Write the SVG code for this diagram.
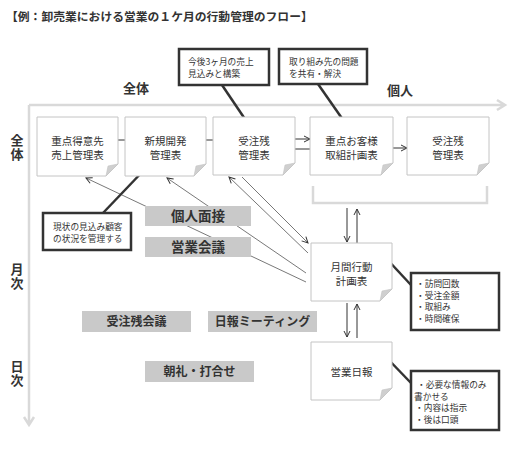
<svg xmlns="http://www.w3.org/2000/svg" width="510" height="450" viewBox="0 0 510 450">
<defs>
<style>
text{font-family:"Noto Sans CJK JP","Noto Sans",sans-serif;fill:#333}
.ttl{font-size:11.8px;font-weight:bold}
.hd{font-size:13px;font-weight:bold;text-anchor:middle}
.vt{font-size:13px;font-weight:bold;writing-mode:tb;letter-spacing:1px}
.nt{font-size:10.5px;text-anchor:middle}
.ct{font-size:8.7px}
.gt{font-weight:bold;text-anchor:middle}
.frame{stroke:#d9d9d9;stroke-width:2.5;fill:none}
.doc{fill:#fff;stroke:#c4c4c4;stroke-width:1}
.fold{fill:#cfcfcf;stroke:#c4c4c4;stroke-width:0.6}
.gbox{fill:#c9c9c9}
.cbox{fill:#fff;stroke:#333;stroke-width:2.5}
.lead{stroke:#333;stroke-width:2.5}
.ln{stroke:#333;stroke-width:1;fill:none}
.thin{stroke:#555;stroke-width:0.8;fill:none}
</style>
<marker id="ah" viewBox="0 0 8 8" markerWidth="8" markerHeight="8" refX="7" refY="4" orient="auto" markerUnits="userSpaceOnUse">
<path d="M1,1 L7,4 L1,7" fill="none" stroke="#333" stroke-width="1"/>
</marker>
</defs>

<text class="ttl" x="6" y="21">【例：卸売業における営業の１ケ月の行動管理のフロー】</text>

<g id="frame">
<path class="frame" d="M29,105 H505 M497,100 L505,105 L497,110"/>
<path class="frame" d="M29,105 V425 M24,417 L29,425 L34,417"/>
</g>

<g id="labels">
<text class="hd" x="136" y="93">全体</text>
<text class="hd" x="400" y="95">個人</text>
<text class="vt" x="17" y="134">全体</text>
<text class="vt" x="17" y="263">月次</text>
<text class="vt" x="17" y="360">日次</text>
</g>

<g id="connectors">
<line class="ln" x1="118" y1="140" x2="125" y2="140"/>
<line class="ln" x1="206" y1="140" x2="213" y2="140"/>
<line class="ln" x1="295" y1="139" x2="310" y2="139" marker-end="url(#ah)"/>
<line class="ln" x1="295" y1="149" x2="310" y2="149"/>
<line class="ln" x1="393" y1="148" x2="407" y2="148" marker-end="url(#ah)"/>
<path class="frame" d="M313,186 V203 H487 V186"/>
<line class="ln" x1="347" y1="208" x2="347" y2="242" marker-end="url(#ah)"/>
<line class="ln" x1="357" y1="243" x2="357" y2="209" marker-end="url(#ah)"/>
<line class="ln" x1="347" y1="303" x2="347" y2="337" marker-end="url(#ah)"/>
<line class="ln" x1="357" y1="338" x2="357" y2="304" marker-end="url(#ah)"/>
<line class="thin" x1="306" y1="282" x2="86" y2="178" marker-end="url(#ah)"/>
<line class="thin" x1="306" y1="273" x2="167" y2="178" marker-end="url(#ah)"/>
<line class="thin" x1="308" y1="253" x2="229" y2="177" marker-end="url(#ah)"/>
<line class="thin" x1="242" y1="177" x2="308" y2="243" marker-end="url(#ah)"/>
<line class="lead" x1="222" y1="85" x2="249" y2="125"/>
<line class="lead" x1="318" y1="84" x2="348" y2="127"/>
<line class="lead" x1="103" y1="213" x2="146" y2="168"/>
<line class="lead" x1="385" y1="257" x2="411" y2="285"/>
<line class="lead" x1="385" y1="356" x2="411" y2="383"/>
</g>

<g id="meeting-kojin">
<rect class="gbox" x="145" y="206" width="106" height="20"/>
<text class="gt" x="198" y="221" style="font-size:13.5px">個人面接</text>
</g>
<g id="meeting-eigyo">
<rect class="gbox" x="145" y="237" width="106" height="20"/>
<text class="gt" x="198" y="252" style="font-size:13.5px">営業会議</text>
</g>
<g id="meeting-juchu">
<rect class="gbox" x="82" y="311" width="109" height="21"/>
<text class="gt" x="136.5" y="326" style="font-size:12px">受注残会議</text>
</g>
<g id="meeting-nippo">
<rect class="gbox" x="208" y="311" width="109" height="21"/>
<text class="gt" x="262.5" y="326" style="font-size:12px">日報ミーティング</text>
</g>
<g id="meeting-chorei">
<rect class="gbox" x="145" y="361" width="109" height="21"/>
<text class="gt" x="199.5" y="376" style="font-size:12px">朝礼・打合せ</text>
</g>

<g id="node1">
<path class="doc" d="M37,117 H118 V164 L106,176 H37 Z"/>
<path class="fold" d="M118,164 L106,176 L108,166 Z"/>
<text class="nt" x="77.5" y="145">重点得意先<tspan x="77.5" dy="14">売上管理表</tspan></text>
</g>
<g id="node2">
<path class="doc" d="M125,117 H206 V164 L194,176 H125 Z"/>
<path class="fold" d="M206,164 L194,176 L196,166 Z"/>
<text class="nt" x="165.5" y="145">新規開発<tspan x="165.5" dy="14">管理表</tspan></text>
</g>
<g id="node3">
<path class="doc" d="M213,117 H295 V163 L283,175 H213 Z"/>
<path class="fold" d="M295,163 L283,175 L285,165 Z"/>
<text class="nt" x="254" y="145">受注残<tspan x="254" dy="14">管理表</tspan></text>
</g>
<g id="node4">
<path class="doc" d="M310,117 H393 V163 L381,175 H310 Z"/>
<path class="fold" d="M393,163 L381,175 L383,165 Z"/>
<text class="nt" x="351.5" y="145">重点お客様<tspan x="351.5" dy="14">取組計画表</tspan></text>
</g>
<g id="node5">
<path class="doc" d="M407,117 H489 V163 L477,175 H407 Z"/>
<path class="fold" d="M489,163 L477,175 L479,165 Z"/>
<text class="nt" x="448" y="145">受注残<tspan x="448" dy="14">管理表</tspan></text>
</g>
<g id="node6">
<path class="doc" d="M311,243 H392 V289 L380,301 H311 Z"/>
<path class="fold" d="M392,289 L380,301 L382,291 Z"/>
<text class="nt" x="351.5" y="271">月間行動<tspan x="351.5" dy="14">計画表</tspan></text>
</g>
<g id="node7">
<path class="doc" d="M311,342 H392 V388 L380,400 H311 Z"/>
<path class="fold" d="M392,388 L380,400 L382,390 Z"/>
<text class="nt" x="351.5" y="376">営業日報</text>
</g>

<g id="callout1">
<rect class="cbox" x="179" y="49" width="90" height="36"/>
<text class="ct" x="188" y="65">今後3ヶ月の売上<tspan x="188" dy="11.5">見込みと構築</tspan></text>
</g>
<g id="callout2">
<rect class="cbox" x="279" y="49" width="88" height="35"/>
<text class="ct" x="289" y="65">取り組み先の問題<tspan x="289" dy="11.5">を共有・解決</tspan></text>
</g>
<g id="callout3">
<rect class="cbox" x="43" y="213" width="88" height="37"/>
<text class="ct" x="53" y="230">現状の見込み顧客<tspan x="53" dy="11.5">の状況を管理する</tspan></text>
</g>
<g id="callout4">
<rect class="cbox" x="411" y="273" width="88" height="57"/>
<text class="ct" x="416" y="287">・訪問回数<tspan x="416" dy="11.7">・受注金額</tspan><tspan x="416" dy="11.7">・取組み</tspan><tspan x="416" dy="11.7">・時間確保</tspan></text>
</g>
<g id="callout5">
<rect class="cbox" x="411" y="371" width="88" height="59"/>
<text class="ct" x="417" y="388">・必要な情報のみ<tspan x="414" dy="11.5">書かせる</tspan><tspan x="415" dy="11.5">・内容は指示</tspan><tspan x="415" dy="11.5">・後は口頭</tspan></text>
</g>
</svg>
